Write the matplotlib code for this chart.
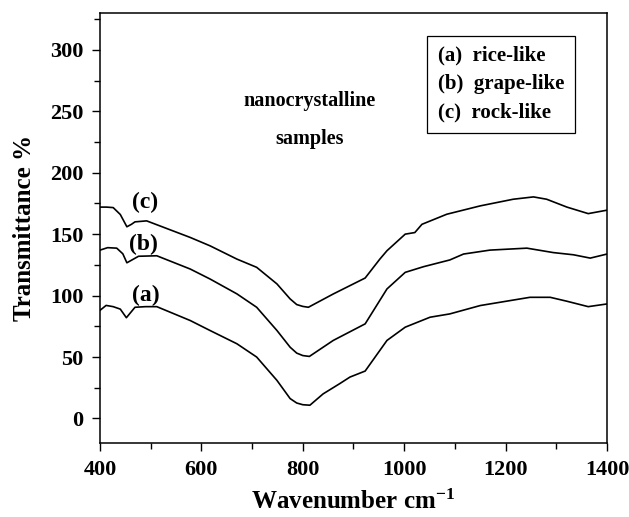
import matplotlib
matplotlib.use("Agg")
import matplotlib.pyplot as plt
from matplotlib.ticker import MultipleLocator

plt.rcParams['font.family'] = 'Liberation Serif'
plt.rcParams['font.weight'] = 'bold'
plt.rcParams['mathtext.fontset'] = 'custom'
plt.rcParams['mathtext.rm'] = 'Liberation Serif:bold'
plt.rcParams['mathtext.it'] = 'Liberation Serif:bold'
plt.rcParams['mathtext.bf'] = 'Liberation Serif:bold'

# (a) rice-like
wave_a = [400, 412, 426, 440, 452, 460, 469, 490, 512, 578, 617, 670, 709, 749, 775,
          788, 800, 814, 840, 873, 893, 923, 966, 1002, 1051, 1090, 1150, 1248, 1288, 1321, 1363, 1400]
trans_a = [88, 92, 91, 89, 82, 86, 90.5, 91, 91, 79.7, 71.6, 60.8, 50, 31, 16.2,
           12.6, 11.2, 10.8, 20, 28.4, 33.7, 38.6, 63.5, 74.3, 82.4, 85.1, 91.9, 98.6, 98.6, 95.4, 91, 93.2]

# (b) grape-like
wave_b = [400, 415, 433, 445, 453, 463, 476, 512, 578, 617, 670, 709, 749, 775, 788,
          800, 813, 860, 923, 966, 1002, 1038, 1090, 1117, 1169, 1242, 1294, 1334, 1367, 1400]
trans_b = [137, 139, 138.6, 134, 126.7, 129, 132, 132.4, 121.6, 113.5, 101.4, 90.5, 71.6, 58, 53.2,
           51.2, 50.5, 63.5, 77, 105.4, 118.9, 123.5, 129, 133.8, 137, 138.6, 135, 133.2, 130.5, 133.8]

# (c) rock-like
wave_c = [400, 413, 426, 440, 453, 462, 469, 492, 578, 617, 670, 709, 749, 775, 788,
          800, 811, 860, 923, 952, 966, 1002, 1021, 1035, 1084, 1150, 1215, 1255, 1281, 1321, 1363, 1400]
trans_c = [172, 172, 171.6, 166, 156, 158, 160, 160.8, 147.3, 140.5, 129.7, 123, 109.5, 97.3, 92.7,
           91.2, 90.5, 101.3, 114.3, 129.7, 136.5, 150, 151.3, 158, 166.2, 173, 178.4, 180.3, 178.4, 172, 166.7, 169.5]

curve_tags = ['(a)', '(b)', '(c)']
tag_x = [490, 486, 488]
tag_y = [100, 142, 176]
legend_names = ['rice-like', 'grape-like', 'rock-like']

fig = plt.figure(figsize=(6.29, 5.17), dpi=100)
ax = fig.add_axes([0.159, 0.143, 0.806, 0.832])

for wx, ty in [(wave_a, trans_a), (wave_b, trans_b), (wave_c, trans_c)]:
    ax.plot(wx, ty, color='black', linewidth=1.2)

for tag, tx, ty in zip(curve_tags, tag_x, tag_y):
    ax.text(tx, ty, tag, fontsize=17, fontweight='bold', ha='center', va='center')

ax.text(814, 243, 'nanocrystalline\nsamples', fontsize=14.5, fontweight='bold',
        ha='center', va='center', linespacing=2.2)

# legend box
legend_lines = '\n'.join(t + '  ' + n for t, n in zip(curve_tags, legend_names))
ax.text(1191, 272, legend_lines, fontsize=15, fontweight='bold', ha='center', va='center',
        multialignment='left', linespacing=1.55,
        bbox=dict(boxstyle='square,pad=0.5', facecolor='white', edgecolor='black', linewidth=0.9))

ax.set_xlim(400, 1400)
ax.set_ylim(-20, 330)
ax.xaxis.set_major_locator(MultipleLocator(200))
ax.xaxis.set_minor_locator(MultipleLocator(100))
ax.yaxis.set_major_locator(MultipleLocator(50))
ax.yaxis.set_minor_locator(MultipleLocator(25))
ax.tick_params(which='both', direction='out', top=False, right=False)
ax.tick_params(which='major', length=6, width=1, labelsize=16, pad=6)
ax.tick_params(which='minor', length=4, width=1)
for lab in ax.get_xticklabels() + ax.get_yticklabels():
    lab.set_fontweight('bold')
for sp in ax.spines.values():
    sp.set_linewidth(1.1)

ax.set_xlabel(r'Wavenumber cm$^{\mathdefault{-1}}$', fontsize=18, fontweight='bold', labelpad=7)
ax.set_ylabel('Transmittance %', fontsize=18, fontweight='bold', labelpad=10)

fig.savefig('out.png', dpi=100)
